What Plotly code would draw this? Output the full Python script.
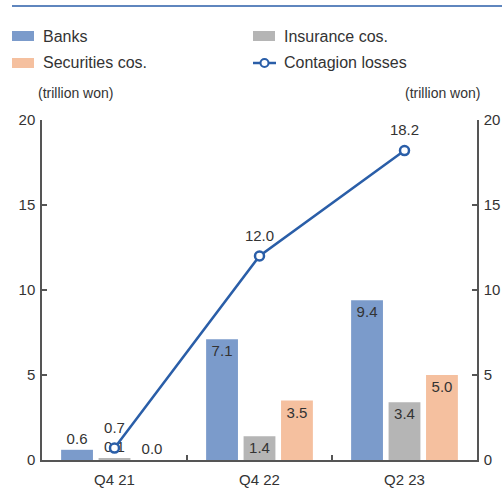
import plotly.graph_objects as go

categories = ["Q4 21", "Q4 22", "Q2 23"]
banks = [0.6, 7.1, 9.4]
insurance = [0.1, 1.4, 3.4]
securities = [0.0, 3.5, 5.0]
contagion = [0.7, 12.0, 18.2]
y_ticks = [0, 5, 10, 15, 20]

FONT = "Liberation Sans, Arial, sans-serif"
NARROW = "Liberation Sans Narrow, Arial Narrow, Liberation Sans, sans-serif"
TXT = "#333333"
C_BANK = "#7b9bcb"
C_INS = "#b5b5b5"
C_SEC = "#f5c09f"
C_LINE = "#2a5ea8"
AX = "#555555"

W, H = 502, 488
L, R, T, B = 42, 25, 120, 28
PW, PH = W - L - R, H - T - B


def px(xr, yr):
    """page pixel -> paper coords"""
    return (xr - L) / PW, (H - B - yr) / PH


def fmt(v):
    return [f"{x:.1f}" for x in v]


def pos(v):
    return ["inside" if x >= 1 else "outside" for x in v]


fig = go.Figure()
for name, vals, col in [("Banks", banks, C_BANK), ("Insurance cos.", insurance, C_INS),
                        ("Securities cos.", securities, C_SEC)]:
    fig.add_trace(go.Bar(
        x=categories, y=vals, name=name, marker=dict(color=col, line=dict(width=0)),
        text=fmt(vals), textposition=pos(vals), insidetextanchor="end",
        textfont=dict(size=15, color=TXT, family=NARROW), cliponaxis=False,
    ))
fig.add_trace(go.Scatter(
    x=categories, y=contagion, name="Contagion losses", mode="lines+markers",
    line=dict(color=C_LINE, width=2.5),
    marker=dict(symbol="circle", size=9, color="white", line=dict(color=C_LINE, width=2.5)),
    cliponaxis=False,
))
# value labels for the line (invisible larger markers give the label offset)
fig.add_trace(go.Scatter(
    x=categories, y=contagion, mode="markers+text", showlegend=False, hoverinfo="skip",
    marker=dict(size=17, opacity=0), text=fmt(contagion), textposition="top center",
    textfont=dict(size=15, color=TXT, family=NARROW), cliponaxis=False,
))
fig.add_trace(go.Scatter(x=categories, y=contagion, yaxis="y2", mode="markers",
                         marker=dict(opacity=0), showlegend=False, hoverinfo="skip"))

axis_common = dict(range=[0, 20], tickvals=y_ticks, ticks="inside", ticklen=5, tickwidth=1.5,
                   tickcolor=AX, showline=True, linecolor=AX, linewidth=1.5,
                   showgrid=False, zeroline=False, ticklabelstandoff=2, automargin=False,
                   tickfont=dict(size=15, color=TXT, family=NARROW))

shapes = []
annotations = []
# top rule
x0, y0 = px(12, 6)
x1, _ = px(502, 6)
shapes.append(dict(type="line", xref="paper", yref="paper", x0=x0, x1=x1, y0=y0, y1=y0,
                   line=dict(color=C_LINE, width=1.5)))
# legend
legend_items = [("Banks", C_BANK, 12, 36), ("Insurance cos.", C_INS, 253, 36),
                ("Securities cos.", C_SEC, 12, 63)]
for label, col, lx, ly in legend_items:
    a, b_ = px(lx, ly - 5)
    c, d = px(lx + 22, ly + 5)
    shapes.append(dict(type="rect", xref="paper", yref="paper", x0=a, x1=c, y0=d, y1=b_,
                       fillcolor=col, line=dict(width=0)))
    tx, ty = px(lx + 29, ly)
    annotations.append(dict(text=label, xref="paper", yref="paper", x=tx, y=ty, xanchor="left",
                            yanchor="middle", showarrow=False,
                            font=dict(size=16, color=TXT, family=FONT)))
a, yy = px(253, 63)
c, _ = px(276, 63)
shapes.append(dict(type="line", xref="paper", yref="paper", x0=a, x1=c, y0=yy, y1=yy,
                   line=dict(color=C_LINE, width=2.5)))
cx0, cy0 = px(260.5, 59)
cx1, cy1 = px(268.5, 67)
shapes.append(dict(type="circle", xref="paper", yref="paper", x0=cx0, x1=cx1, y0=cy1, y1=cy0,
                   fillcolor="white", line=dict(color=C_LINE, width=2)))
tx, ty = px(282, 63)
annotations.append(dict(text="Contagion losses", xref="paper", yref="paper", x=tx, y=ty,
                        xanchor="left", yanchor="middle", showarrow=False,
                        font=dict(size=16, color=TXT, family=FONT)))
# units
tx, ty = px(36, 93)
annotations.append(dict(text="(trillion won)", xref="paper", yref="paper", x=tx, y=ty,
                        xanchor="left", yanchor="middle", showarrow=False,
                        font=dict(size=14, color=TXT, family=FONT)))
tx, ty = px(482, 93)
annotations.append(dict(text="(trillion won)", xref="paper", yref="paper", x=tx, y=ty,
                        xanchor="right", yanchor="middle", showarrow=False,
                        font=dict(size=14, color=TXT, family=FONT)))

fig.update_layout(
    width=W, height=H,
    margin=dict(l=L, r=R, t=T, b=B, autoexpand=False),
    paper_bgcolor="white", plot_bgcolor="white",
    barmode="group", bargap=0.225, bargroupgap=0.15,
    uniformtext=dict(minsize=15, mode="show"),
    font=dict(family=FONT, color=TXT),
    showlegend=False,
    xaxis=dict(ticks="inside", tickson="boundaries", ticklen=5, tickwidth=1.5, tickcolor=AX,
               showline=True, linecolor=AX, linewidth=1.5, showgrid=False, ticklabelstandoff=5,
               automargin=False, tickfont=dict(size=15, color=TXT, family=NARROW)),
    yaxis=dict(side="left", **axis_common),
    yaxis2=dict(side="right", overlaying="y", **axis_common),
    shapes=shapes,
    annotations=annotations,
)
fig.write_html("out.html", config={"displayModeBar": False},
               post_script="document.body.style.margin='0';")
